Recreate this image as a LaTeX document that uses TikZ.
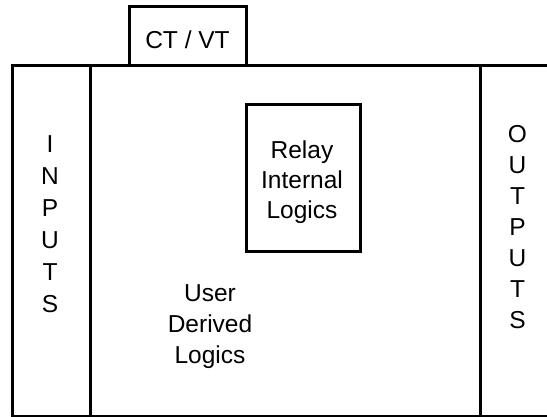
\documentclass[tikz,border=0pt]{standalone}
\usepackage{fontspec}
\setmainfont{Liberation Sans}
\begin{document}
\begin{tikzpicture}[x=1pt,y=-1pt,
  frame/.style={line width=3pt,line cap=rect},
  lbl/.style={inner sep=0pt,align=center},
  big/.style={font=\fontsize{24.5}{#1}\selectfont}]
\useasboundingbox (0,0) rectangle (547,417);
% coordinates
\coordinate (tl) at (12,66);
\coordinate (tr) at (549,66);
\coordinate (bl) at (12,416);
\coordinate (br) at (549,416);
\coordinate (d1t) at (90,66);
\coordinate (d1b) at (90,416);
\coordinate (d2t) at (480,66);
\coordinate (d2b) at (480,416);
% outer frame
\draw[frame] (tr) -- (tl) -- (bl) -- (br);
\draw[frame] (d1t) -- (d1b);
\draw[frame] (d2t) -- (d2b);
% CT / VT box
\draw[frame] (129,66) -- (129,7) -- (246,7) -- (246,66);
\node[lbl,big=24] (ctvt) at (187.5,40) {CT / VT};
% relay box
\node[draw,frame,minimum width=114pt,minimum height=147pt,inner sep=0pt] (relay) at (303,178) {};
\node[lbl,big=30] (relaytxt) at (302,182) {Relay\\Internal\\Logics};
% user derived
\node[lbl,big=31] (user) at (210,326.6) {User\\Derived\\Logics};
% inputs / outputs
\node[lbl,big=32] (inputs) at (50,224) {I\\N\\P\\U\\T\\S};
\node[lbl,big=31] (outputs) at (517.5,227.5) {O\\U\\T\\P\\U\\T\\S};
\end{tikzpicture}
\end{document}
